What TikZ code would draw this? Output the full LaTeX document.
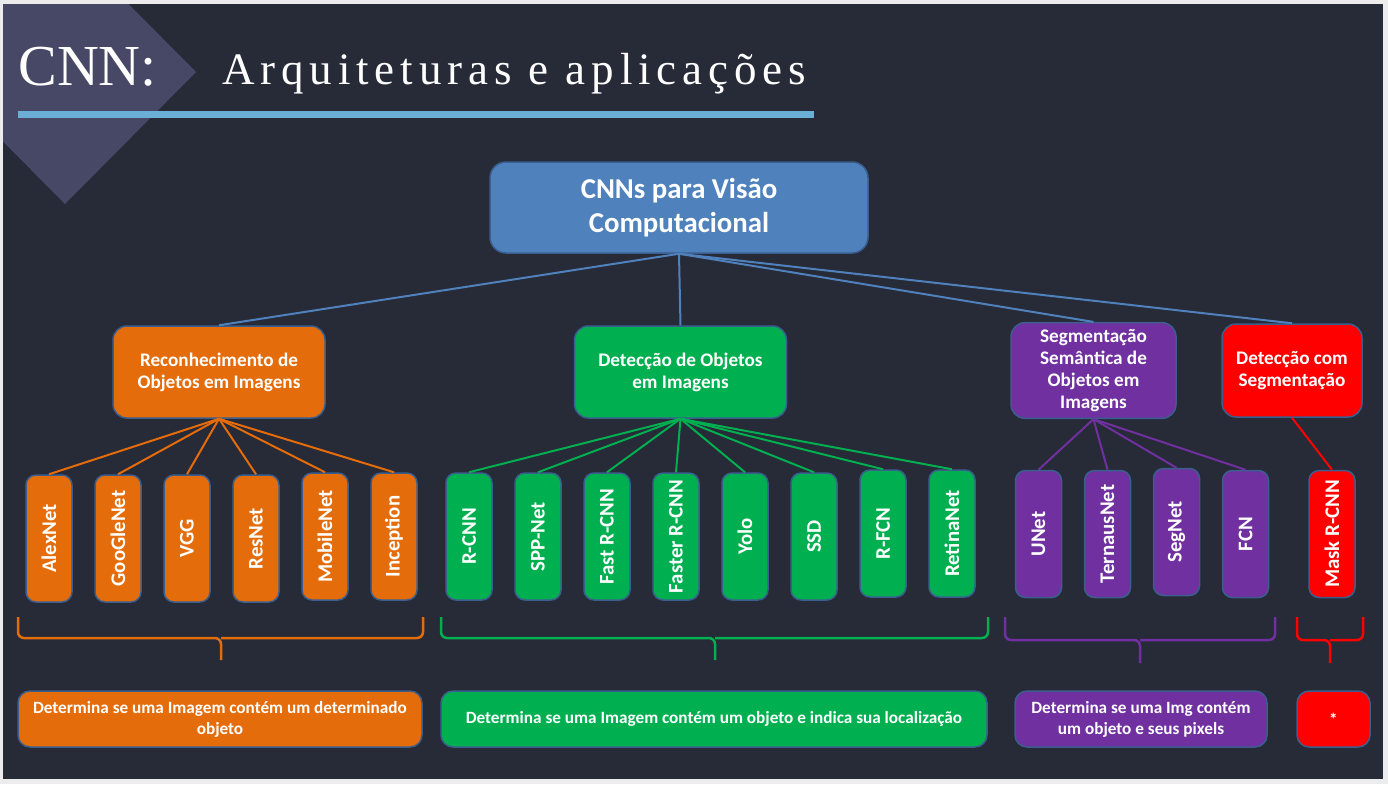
\documentclass[tikz,border=0pt]{standalone}
\usepackage{fontspec}
\setmainfont{Carlito}
\newfontfamily\titlefont{Liberation Serif}
\newfontfamily\subtitlefont[LetterSpace=13]{Liberation Serif}
\usepackage{xcolor}
\usetikzlibrary{positioning}

\definecolor{framegray}{HTML}{ECECEC}
\definecolor{slidebg}{HTML}{272A37}
\definecolor{diamondc}{HTML}{464865}
\definecolor{titleblue}{HTML}{6BAED6}
\definecolor{edgeblue}{HTML}{3A5F8E}
\definecolor{rootblue}{HTML}{4F81BD}
\definecolor{recorange}{HTML}{E46C0A}
\definecolor{detgreen}{HTML}{00B050}
\definecolor{segpurple}{HTML}{7030A0}
\definecolor{maskred}{HTML}{FF0000}

\begin{document}
\begin{tikzpicture}[
    x=0.5pt,y=-0.5pt,
    node distance=10.75pt,
    box/.style={rectangle,draw=edgeblue,line width=0.75pt,rounded corners=7pt,align=center,text=white,
        font=\bfseries\fontsize{9.6}{11}\selectfont},
    leaf/.style={box,minimum width=23pt,minimum height=63.5pt,inner sep=0pt,rounded corners=5pt,
        font=\bfseries\fontsize{10.4}{12}\selectfont},
    descbox/.style={box,minimum height=28pt,inner sep=2pt,rounded corners=6pt,
        font=\bfseries\fontsize{8.6}{10.5}\selectfont},
    link/.style={line width=1pt},
    bracket/.style={line width=1.25pt,rounded corners=3pt}
]
\useasboundingbox (0,0) rectangle (1388,784);
\fill[framegray] (0,0) rectangle (1388,784);
\fill[slidebg] (3,4) rectangle (1383,779);
\begin{scope}
  \clip (3,4) rectangle (1383,779);
  \fill[diamondc] (65,-60) -- (196,72) -- (65,204) -- (-66,72) -- cycle;
\end{scope}

% title
\node[anchor=base west,inner sep=0pt,text=white,font=\titlefont\fontsize{29}{35}\selectfont] (cnn) at (18,85) {CNN:};
\node[anchor=base west,inner sep=0pt,text=white,font=\subtitlefont\fontsize{22.5}{27}\selectfont] (subtitle) at (222,84) {Arquiteturas e aplicações};
\draw[line width=3.25pt,titleblue] (18,114.5) -- (814,114.5);

% root and the four groups
\node[box,fill=rootblue,minimum width=189pt,minimum height=45.5pt,rounded corners=8pt,
    font=\bfseries\fontsize{14.4}{17}\selectfont] (root) at (679,207.5) {CNNs para Visão\\Computacional};
\node[box,fill=recorange,minimum width=106pt,minimum height=46pt] (rec) at (219,372) {Reconhecimento de\\Objetos em Imagens};
\node[box,fill=detgreen,minimum width=106pt,minimum height=46pt] (det) at (680.5,372) {Detecção de Objetos\\em Imagens};
\node[box,fill=segpurple,minimum width=82.5pt,minimum height=46.5pt] (seg) at (1093.5,370.5) {Segmentação\\Semântica de\\Objetos em\\Imagens};
\node[box,fill=maskred,minimum width=70pt,minimum height=46.5pt] (dseg) at (1292,370.5) {Detecção com\\Segmentação};

\draw[link,rootblue] (root.south) -- (rec.north);
\draw[link,rootblue] (root.south) -- (det.north);
\draw[link,rootblue] (root.south) -- (seg.north);
\draw[link,rootblue] (root.south) -- (dseg.north);

% recognition networks
\node[leaf,fill=recorange] (alex) at (49,538.5) {\rotatebox{90}{AlexNet}};
\node[leaf,fill=recorange,right=of alex] (goog) {\rotatebox{90}{GooGleNet}};
\node[leaf,fill=recorange,right=of goog] (vgg) {\rotatebox{90}{VGG}};
\node[leaf,fill=recorange,right=of vgg] (resnet) {\rotatebox{90}{ResNet}};
\node[leaf,fill=recorange,right=of resnet,yshift=1pt] (mobile) {\rotatebox{90}{MobileNet}};
\node[leaf,fill=recorange,right=of mobile] (incep) {\rotatebox{90}{Inception}};
\draw[link,recorange] (rec.south) -- (alex.north);
\draw[link,recorange] (rec.south) -- (goog.north);
\draw[link,recorange] (rec.south) -- (vgg.north);
\draw[link,recorange] (rec.south) -- (resnet.north);
\draw[link,recorange] (rec.south) -- (mobile.north);
\draw[link,recorange] (rec.south) -- (incep.north);

% detection networks
\node[leaf,fill=detgreen] (rcnn) at (469,536.5) {\rotatebox{90}{R-CNN}};
\node[leaf,fill=detgreen,right=of rcnn] (spp) {\rotatebox{90}{SPP-Net}};
\node[leaf,fill=detgreen,right=of spp] (fast) {\rotatebox{90}{Fast R-CNN}};
\node[leaf,fill=detgreen,right=of fast] (faster) {\rotatebox{90}{Faster R-CNN}};
\node[leaf,fill=detgreen,right=of faster] (yolo) {\rotatebox{90}{Yolo}};
\node[leaf,fill=detgreen,right=of yolo] (ssd) {\rotatebox{90}{SSD}};
\node[leaf,fill=detgreen,right=of ssd,yshift=1.5pt] (rfcn) {\rotatebox{90}{R-FCN}};
\node[leaf,fill=detgreen,right=of rfcn] (retina) {\rotatebox{90}{RetinaNet}};
\draw[link,detgreen] (det.south) -- (rcnn.north);
\draw[link,detgreen] (det.south) -- (spp.north);
\draw[link,detgreen] (det.south) -- (fast.north);
\draw[link,detgreen] (det.south) -- (faster.north);
\draw[link,detgreen] (det.south) -- (yolo.north);
\draw[link,detgreen] (det.south) -- (ssd.north);
\draw[link,detgreen] (det.south) -- (rfcn.north);
\draw[link,detgreen] (det.south) -- (retina.north);

% segmentation networks
\node[leaf,fill=segpurple] (unet) at (1038.5,534) {\rotatebox{90}{UNet}};
\node[leaf,fill=segpurple,right=of unet] (ternaus) {\rotatebox{90}{TernausNet}};
\node[leaf,fill=segpurple,right=of ternaus,yshift=1pt] (segnet) {\rotatebox{90}{SegNet}};
\node[leaf,fill=segpurple,right=of segnet,yshift=-1pt] (fcn) {\rotatebox{90}{FCN}};
\node[leaf,fill=maskred] (mask) at (1332,534) {\rotatebox{90}{Mask R-CNN}};
\draw[link,segpurple] (seg.south) -- (unet.north);
\draw[link,segpurple] (seg.south) -- (ternaus.north);
\draw[link,segpurple] (seg.south) -- (segnet.north);
\draw[link,segpurple] (seg.south) -- (fcn.north);
\draw[link,maskred] (dseg.south) -- (mask.north);

% braces
\draw[bracket,recorange] (18,617) |- (221,638) -- (221,660);
\draw[bracket,recorange] (423,617) |- (221,638);
\draw[bracket,detgreen] (441,617) |- (715,638) -- (715,660);
\draw[bracket,detgreen] (988,617) |- (715,638);
\draw[bracket,segpurple] (1005,617) |- (1140,640) -- (1140,663);
\draw[bracket,segpurple] (1275,617) |- (1140,640);
\draw[bracket,maskred] (1297,617) |- (1330,640) -- (1330,663);
\draw[bracket,maskred] (1363,617) |- (1330,640);

% descriptions
\node[descbox,fill=recorange,minimum width=202pt] (recdesc) at (220,719) {Determina se uma Imagem contém um determinado\\objeto};
\node[descbox,fill=detgreen,minimum width=273pt] (detdesc) at (714,719) {Determina se uma Imagem contém um objeto e indica sua localização};
\node[descbox,fill=segpurple,minimum width=126pt] (segdesc) at (1141,719) {Determina se uma Img contém\\um objeto e seus pixels};
\node[descbox,fill=maskred,minimum width=36.5pt] (maskdesc) at (1333.5,719) {*};
\end{tikzpicture}
\end{document}
